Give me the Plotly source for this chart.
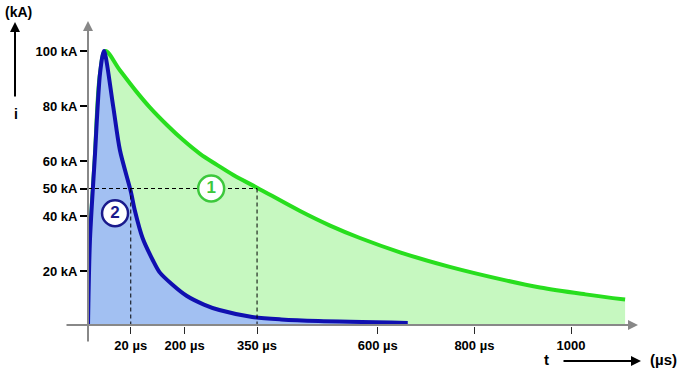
import plotly.graph_objects as go

# ---- data (schematic time position in µs, current in kA) ----
wave1_t = [0, 4, 14, 25, 36, 66, 99, 128, 164, 197, 232, 267, 300, 350, 439, 500, 563, 646, 749, 867, 936, 1030, 1112]
wave1_i = [0, 31, 61, 92, 100, 93, 85.5, 79.5, 73, 67.6, 62.6, 58.6, 55, 50.3, 41.8, 36.6, 32, 26.8, 21.5, 16.5, 14, 11.5, 9.6]

wave2_t = [0, 4, 14, 25, 33, 52, 66, 88.5, 97, 113, 134, 148, 175, 204, 240, 272, 340, 400, 477, 662]
wave2_i = [0, 31, 61, 92, 100, 80, 64, 49, 42, 32, 24, 19.6, 15, 11, 7.8, 5.8, 3.3, 2.4, 1.8, 1.1]

y_tick_vals = [20, 40, 50, 60, 80, 100]
y_tick_text = ["20 kA", "40 kA", "50 kA", "60 kA", "80 kA", "100 kA"]

x_tick_pos = [88.5, 200, 350, 600, 800, 1000]
x_tick_text = ["20 µs", "200 µs", "350 µs", "600 µs", "800 µs", "1000"]

half_value = 50
half_time_1 = 350
half_time_2 = 88.5

label1_pos = (255, 50)
label2_pos = (56, 41)

# ---- geometry ----
W, H = 682, 369
L, R, T, B = 88, 682 - 650, 10, 369 - 326
PW, PH = W - L - R, H - T - B
X_MAX = PW / 0.483
Y_MAX = PH / 2.75


def px(x):
    return (x - L) / PW


def py(y):
    return (H - B - y) / PH


FONT = "Liberation Sans, Arial, sans-serif"
GREEN = "rgb(40,222,30)"
GREEN_FILL = "rgb(198,248,192)"
BLUE = "rgb(16,16,176)"
BLUE_FILL = "rgb(162,192,242)"

fig = go.Figure()

fig.add_trace(go.Scatter(
    x=wave1_t, y=wave1_i, mode="lines", fill="tozeroy",
    fillcolor=GREEN_FILL, line=dict(color=GREEN, width=4, shape="spline", smoothing=1.0),
    hoverinfo="skip"))

fig.add_trace(go.Scatter(
    x=wave2_t, y=wave2_i, mode="lines", fill="tozeroy",
    fillcolor=BLUE_FILL, line=dict(color=BLUE, width=4, shape="spline", smoothing=0.8),
    hoverinfo="skip"))

# dashed guide lines
dash = dict(color="black", width=1, dash="4px,3px")
fig.add_trace(go.Scatter(x=[0, half_time_1], y=[half_value, half_value], mode="lines",
                         line=dash, hoverinfo="skip"))
fig.add_trace(go.Scatter(x=[half_time_1, half_time_1], y=[half_value, 0], mode="lines",
                         line=dash, hoverinfo="skip"))
fig.add_trace(go.Scatter(x=[half_time_2, half_time_2], y=[half_value, 0], mode="lines",
                         line=dash, hoverinfo="skip"))

# circled labels
for (xx, yy), txt, col in [(label1_pos, "1", "rgb(60,200,60)"), (label2_pos, "2", "rgb(26,26,140)")]:
    fig.add_trace(go.Scatter(
        x=[xx], y=[yy], mode="markers+text", text=[f"<b>{txt}</b>"],
        textposition="middle center",
        textfont=dict(family=FONT, size=17, color=col),
        marker=dict(size=26, color="white", line=dict(color=col, width=2.5)),
        hoverinfo="skip"))


def label(x, y, text, size):
    return dict(x=px(x), y=py(y), xref="paper", yref="paper", text=f"<b>{text}</b>",
                showarrow=False, xanchor="center", yanchor="middle",
                font=dict(family=FONT, size=size, color="black"))


annotations = [
    # gray axis arrows
    dict(x=px(88), y=py(21), xref="paper", yref="paper", ax=0, ay=343 - 21,
         showarrow=True, arrowhead=2, arrowsize=1,
         arrowwidth=2, arrowcolor="rgb(136,136,136)", text=""),
    dict(x=px(638), y=py(325), xref="paper", yref="paper", ax=65 - 638, ay=0,
         showarrow=True, arrowhead=2, arrowsize=1,
         arrowwidth=2, arrowcolor="rgb(136,136,136)", text=""),
    # black unit arrows
    dict(x=px(15), y=py(22), xref="paper", yref="paper", ax=0, ay=98 - 22,
         showarrow=True, arrowhead=2, arrowsize=1, arrowwidth=2, arrowcolor="black", text=""),
    dict(x=px(641), y=py(361), xref="paper", yref="paper", ax=562 - 641, ay=0,
         showarrow=True, arrowhead=2, arrowsize=1, arrowwidth=2, arrowcolor="black", text=""),
    label(18, 12, "(kA)", 14),
    label(16, 114, "i", 14),
    label(546, 360, "t", 15),
    label(663, 360, "(µs)", 15),
]

fig.update_layout(
    width=W, height=H,
    margin=dict(l=L, r=R, t=T, b=B, pad=0, autoexpand=False),
    paper_bgcolor="white", plot_bgcolor="white",
    showlegend=False,
    hovermode=False,
    annotations=annotations,
    xaxis=dict(range=[0, X_MAX], showgrid=False, zeroline=False, showline=False,
               automargin=False, fixedrange=True,
               tickmode="array", tickvals=x_tick_pos, ticktext=x_tick_text,
               ticks="outside", ticklen=7, tickwidth=1, tickcolor="rgb(40,40,40)",
               tickfont=dict(family=FONT, size=13, color="black", weight="bold")),
    yaxis=dict(range=[0, Y_MAX], showgrid=False, zeroline=False, showline=False,
               automargin=False, fixedrange=True,
               tickmode="array", tickvals=y_tick_vals, ticktext=y_tick_text,
               ticks="outside", ticklen=7, tickwidth=2, tickcolor="black",
               tickfont=dict(family=FONT, size=13, color="black", weight="bold")),
)

# remove the browser's default 8px page margin so the figure fills the window exactly
fig.write_html("out.html",
               config={"displayModeBar": False, "staticPlot": True},
               post_script="document.body.style.margin='0';document.body.style.overflow='hidden';")
